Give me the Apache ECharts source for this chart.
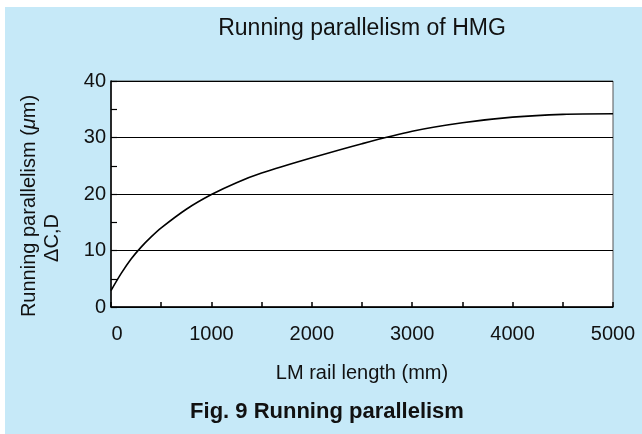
<!DOCTYPE html>
<html><head><meta charset="utf-8">
<script src="https://cdn.jsdelivr.net/npm/echarts@6/dist/echarts.min.js"></script>
<style>html,body{margin:0;padding:0;background:#fff}#c{width:642px;height:434px}</style>
</head><body><div id="c"></div>
<script>
const railLength = [0, 100, 200, 300, 400, 500, 750, 1000, 1250, 1500, 2000, 2500, 3000, 3500, 4000, 4500, 5000];
const parallelism = [2.9, 5.9, 8.5, 10.6, 12.4, 14.0, 17.3, 19.9, 22.0, 23.7, 26.4, 28.9, 31.1, 32.6, 33.6, 34.1, 34.2];
const xTickLabels = ['0', '1000', '2000', '3000', '4000', '5000'];
const yTickLabels = ['0', '10', '20', '30', '40'];

const F = '"Liberation Sans", Arial, sans-serif';
const chart = echarts.init(document.getElementById('c'), null, {renderer: 'canvas'});
chart.setOption({
  backgroundColor: '#fff',
  graphic: [
    {type: 'rect', left: 5, top: 7, shape: {width: 637, height: 427}, style: {fill: '#c6e9f8'}, z: -10},
    {type: 'text', x: 29, y: 206, rotation: Math.PI / 2, z: 10,
     style: {text: '{a|Running parallelism (}{i|μ}{a|m)}', align: 'center', verticalAlign: 'middle',
       rich: {a: {fontFamily: F, fontSize: 20, fill: '#111'}, i: {fontFamily: F, fontSize: 20, fontStyle: 'italic', fill: '#111'}}}},
    {type: 'text', x: 52, y: 238, rotation: Math.PI / 2, z: 10,
     style: {text: 'ΔC,D', align: 'center', verticalAlign: 'middle', fontFamily: F, fontSize: 20, fill: '#111'}},
    {type: 'text', x: 362, y: 29, z: 10,
     style: {text: 'Running parallelism of HMG', align: 'center', verticalAlign: 'middle', fontFamily: F, fontSize: 23, fill: '#111'}},
    {type: 'text', x: 327, y: 412, z: 10,
     style: {text: 'Fig. 9 Running parallelism', align: 'center', verticalAlign: 'middle', fontFamily: F, fontSize: 22, fontWeight: 'bold', fill: '#111'}}
  ],
  grid: {left: 111, right: 29, top: 81, bottom: 127, show: true, backgroundColor: '#fff', borderColor: '#555', borderWidth: 1},
  xAxis: {
    type: 'value', min: 0, max: 5000, interval: 500,
    name: 'LM rail length (mm)', nameLocation: 'middle', nameGap: 56,
    nameTextStyle: {fontFamily: F, fontSize: 20, color: '#111'},
    axisLine: {show: true, lineStyle: {color: '#000', width: 1.5}},
    axisTick: {show: true, inside: true, length: 5, lineStyle: {color: '#000', width: 1.5}},
    axisLabel: {fontFamily: F, fontSize: 20, color: '#111', margin: 17, hideOverlap: false,
      rich: {z: {fontFamily: F, fontSize: 20, color: '#111', padding: [0, 0, 0, 12]}},
      formatter: v => v === 0 ? '{z|0}' : (xTickLabels.includes(String(v)) ? String(v) : '')},
    splitLine: {show: false}
  },
  yAxis: [
    {
      type: 'value', min: 0, max: 40, interval: 10,
      axisLine: {show: true, lineStyle: {color: '#000', width: 1.5}},
      axisTick: {show: false},
      axisLabel: {fontFamily: F, fontSize: 20, color: '#111', margin: 5,
        formatter: v => yTickLabels.includes(String(v)) ? String(v) : ''},
      splitLine: {show: true, lineStyle: {color: '#000', width: 1}}
    },
    {
      type: 'value', min: 0, max: 40, interval: 5, position: 'left',
      axisLine: {show: false}, axisLabel: {show: false}, splitLine: {show: false},
      axisTick: {show: true, inside: true, length: 6, lineStyle: {color: '#000', width: 1.2}}
    }
  ],
  series: [{
    type: 'line', yAxisIndex: 0, smooth: 0.3, showSymbol: false, symbol: 'none',
    data: railLength.map((x, i) => [x, parallelism[i]]),
    lineStyle: {color: '#000', width: 1.6}, z: 5
  }],
  animation: false
});
</script></body></html>
